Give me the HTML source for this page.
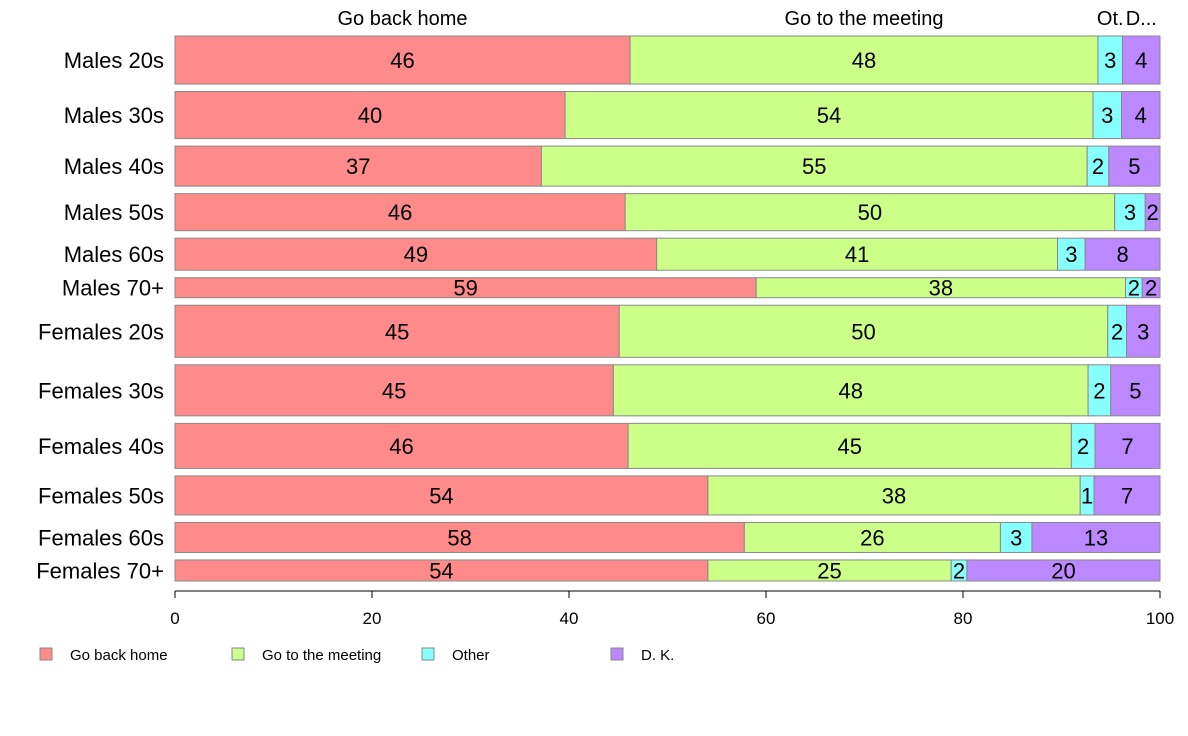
<!DOCTYPE html>
<html><head><meta charset="utf-8"><style>
html,body{margin:0;padding:0;background:#fff;}
svg{display:block;font-family:"Liberation Sans",Arial,sans-serif;}
</style></head><body>
<svg id="chart" width="1188" height="736" viewBox="0 0 1188 736" xmlns="http://www.w3.org/2000/svg"></svg>
<script>
const categories = ["Males 20s","Males 30s","Males 40s","Males 50s","Males 60s","Males 70+","Females 20s","Females 30s","Females 40s","Females 50s","Females 60s","Females 70+"];
const weights = [48,47,40,37,32,20,52,51,45,39,30,21];
const seriesNames = ["Go back home","Go to the meeting","Other","D. K."];
const goHome = [46.2,39.6,37.2,45.7,48.9,59.0,45.1,44.5,46.0,54.1,57.8,54.1];
const goMeeting = [47.5,53.6,55.4,49.7,40.7,37.5,49.6,48.2,45.0,37.8,26.0,24.7];
const other = [2.5,2.9,2.2,3.1,2.8,1.7,1.9,2.3,2.4,1.4,3.2,1.6];
const dk = [3.8,3.9,5.2,1.5,7.6,1.8,3.4,5.0,6.6,6.7,13.0,19.6];
const xTicks = [0,20,40,60,80,100];
const topLabels = ["Go back home","Go to the meeting","Ot.","D..."];

const colors = ["#FF8A8A","#CCFF88","#88FFFF","#BB88FF"];
const series = [goHome, goMeeting, other, dk];
const svg = document.getElementById('chart');
const NS = "http://www.w3.org/2000/svg";
const x0 = 175, x1 = 1160, yTop = 36, yBot = 581, gap = 7.5;
const xs = v => x0 + (x1 - x0) * v / 100;
const totalW = weights.reduce((a,b)=>a+b,0);
const unitH = (yBot - yTop - gap*(categories.length-1)) / totalW;
function mk(tag, attrs, text){
  const e = document.createElementNS(NS, tag);
  for (const k in attrs) e.setAttribute(k, attrs[k]);
  if (text !== undefined) e.textContent = text;
  svg.appendChild(e);
  return e;
}
let y = yTop;
categories.forEach((cat, i) => {
  const h = weights[i] * unitH;
  const lab = mk('text', {x:164, y:y+h/2+8, 'text-anchor':'end', 'font-size':22, fill:'#000'}, cat);
  
  
  let cum = 0;
  series.forEach((s, j) => {
    const v = s[i];
    const r = mk('rect', {x:xs(cum), y:y, width:xs(cum+v)-xs(cum), height:h, fill:colors[j], stroke:'#888', 'stroke-width':1});
    
    
    const t = mk('text', {x:(xs(cum)+xs(cum+v))/2, y:y+h/2+8, 'text-anchor':'middle', 'font-size':22, fill:'#000'}, String(Math.round(v)));
    
    
    if (i === 0) {
      let txt = topLabels[j];
      const tl = mk('text', {x:(xs(cum)+xs(cum+v))/2, y:25, 'text-anchor':'middle', 'font-size':20, fill:'#000'}, txt);
      
      
    }
    cum += v;
  });
  y += h + gap;
});
const ax = mk('line', {x1:x0, x2:x1, y1:591, y2:591, stroke:'#000', 'stroke-width':1});


xTicks.forEach(t => {
  const l = mk('line', {x1:xs(t), x2:xs(t), y1:591, y2:598, stroke:'#000'});
  
  
  const tx = mk('text', {x:xs(t), y:624, 'text-anchor':'middle', 'font-size':17, fill:'#000'}, String(t));
  
  
});
const legX = [40, 232, 422, 611];
seriesNames.forEach((n, j) => {
  const r = mk('rect', {x:legX[j], y:648, width:12, height:12, fill:colors[j], stroke:'#888'});
  
  
  const t = mk('text', {x:legX[j]+30, y:660, 'font-size':15, fill:'#000'}, n);
  
  
});
</script>
</body></html>
